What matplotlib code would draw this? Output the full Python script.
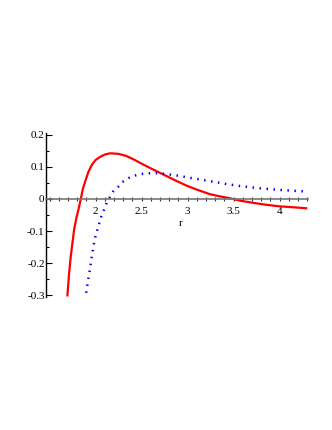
import matplotlib

matplotlib.use("Agg")
import matplotlib.pyplot as plt
from matplotlib.ticker import MultipleLocator

plt.rcParams["font.family"] = ["Liberation Serif", "DejaVu Serif"]

# values
r_red = [1.693, 1.71, 1.73, 1.75, 1.766, 1.79, 1.813, 1.839, 1.86, 1.886,
         1.92, 1.959, 2.00, 2.05, 2.10, 2.16, 2.25, 2.33, 2.42, 2.51, 2.60,
         2.70, 2.85, 2.99, 3.10, 3.24, 3.35, 3.46, 3.58, 3.71, 3.85, 4.00,
         4.15, 4.29]
v_red = [-0.30, -0.235, -0.177, -0.132, -0.095, -0.060, -0.033, 0.0, 0.030,
         0.054, 0.083, 0.106, 0.121, 0.131, 0.138, 0.142, 0.140, 0.134, 0.122,
         0.108, 0.095, 0.081, 0.060, 0.041, 0.029, 0.015, 0.008, 0.002,
         -0.006, -0.012, -0.018, -0.023, -0.026, -0.029]

r_blue = [1.897, 1.915, 1.933, 1.955, 1.976, 2.00, 2.03, 2.055, 2.085, 2.11,
          2.14, 2.19, 2.25, 2.30, 2.36, 2.42, 2.48, 2.54, 2.60, 2.66, 2.72,
          2.88, 3.06, 3.25, 3.43, 3.60, 3.79, 4.00, 4.29]
v_blue = [-0.292, -0.258, -0.228, -0.185, -0.146, -0.114, -0.085, -0.060,
          -0.038, -0.019, -0.002, 0.023, 0.039, 0.054, 0.065, 0.072, 0.077,
          0.079, 0.080, 0.080, 0.079, 0.073, 0.064, 0.055, 0.046, 0.039,
          0.033, 0.028, 0.023]

x_ticks = [2, 2.5, 3, 3.5, 4]
x_labels = ["2", "2.5", "3", "3.5", "4"]
y_ticks = [-0.3, -0.2, -0.1, 0, 0.1, 0.2]
y_labels = ["-0.3", "-0.2", "-0.1", "0", "0.1", "0.2"]

fig = plt.figure(figsize=(3.32, 4.30), dpi=100)
ax = fig.add_axes([46 / 332, 1 - 297 / 430, (308 - 46) / 332, (297 - 133) / 430])

ax.plot(r_red, v_red, color="red", lw=1.6)
ax.plot(r_blue, v_blue, color="blue", lw=1.8, ls=(0, (0.6, 2.2)))

ax.set_xlim(1.46, 4.31)
ax.set_ylim(-0.305, 0.205)

for s in ("top", "right"):
    ax.spines[s].set_visible(False)
ax.spines["bottom"].set_position(("data", 0))
ax.spines["bottom"].set_color("#777777")
ax.spines["bottom"].set_linewidth(1.2)
ax.spines["left"].set_linewidth(1.0)

ax.set_xticks(x_ticks)
ax.set_xticklabels(x_labels)
ax.set_yticks(y_ticks)
ax.set_yticklabels(y_labels)
ax.xaxis.set_minor_locator(MultipleLocator(0.1))
ax.yaxis.set_minor_locator(MultipleLocator(0.05))
ax.tick_params(axis="x", which="both", direction="inout", length=3, width=0.8,
               labelsize=8, pad=4, color="#333333")
ax.tick_params(axis="y", which="major", direction="in", length=4, width=0.8,
               labelsize=8, pad=1)
ax.tick_params(axis="y", which="minor", direction="in", length=2, width=0.8)

ax.text(2.92, -0.075, "r", fontsize=8, ha="center", va="center")

fig.savefig("out.png", dpi=100)
